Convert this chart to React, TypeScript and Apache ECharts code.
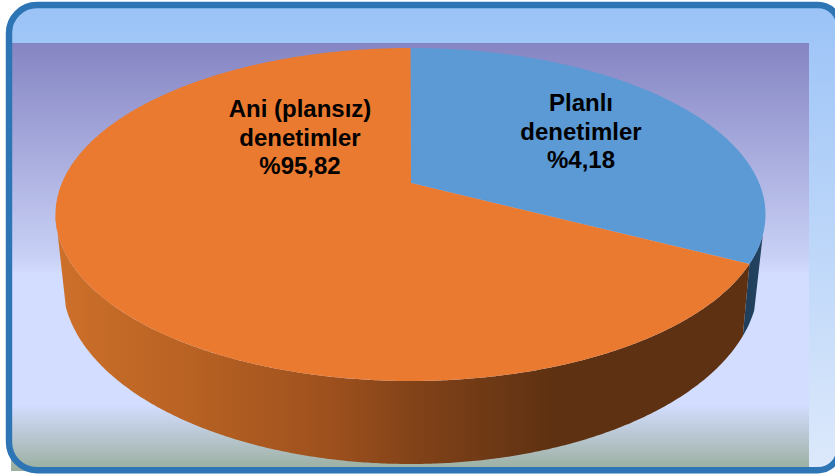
import React, { useEffect, useRef } from "react";
import * as echarts from "echarts";

// Printed labels say 4,18 / 95,82, but the slices in the picture are drawn at roughly 30 / 70:
const categories = ["Planlı\ndenetimler", "Ani (plansız)\ndenetimler"];
const printedValues = ["%4,18", "%95,82"];
const drawnShares = [29.8, 70.2];

const W = 835;
const H = 475;
const TOP = { cx: 410.5, cy: 214.5, rx: 355, ry: 166.5 };
const BOTTOM = { cx: 410.5, cy: 282, rx: 348, ry: 182 };
const APEX = [411, 183];
const LABEL_POS = [
  { x: 581, y: 131 },
  { x: 300, y: 137 },
];
const TOP_COLORS = ["#5B9AD5", "#EA7A2F"];
const FRAME = { x: 9, y: 5, width: 830.5, height: 465.2, r: [28, 21.5, 21.5, 28] };

const pt = (e: typeof TOP, deg: number) => {
  const a = (deg * Math.PI) / 180;
  return [e.cx + e.rx * Math.sin(a), e.cy - e.ry * Math.cos(a)];
};
const arc = (e: typeof TOP, from: number, to: number) => {
  const n = Math.max(2, Math.ceil(Math.abs(to - from) * 2));
  const out: number[][] = [];
  for (let i = 0; i <= n; i++) out.push(pt(e, from + ((to - from) * i) / n));
  return out;
};
const total = drawnShares.reduce((a, b) => a + b, 0);
const sliceRange = (index: number) => {
  let start = 0;
  for (let i = 0; i < index; i++) start += (drawnShares[i] / total) * 360;
  return [start, start + (drawnShares[index] / total) * 360];
};

const orangeSide = new echarts.graphic.LinearGradient(0, 0, 1, 0, [
  { offset: 0, color: "#CD702A" },
  { offset: 0.2, color: "#B76123" },
  { offset: 0.4, color: "#9D501D" },
  { offset: 0.52, color: "#814218" },
  { offset: 0.72, color: "#5E3112" },
  { offset: 1, color: "#5E3112" },
]);
const blueSide = new echarts.graphic.LinearGradient(0, 0, 1, 0, [
  { offset: 0, color: "#1F3D58" },
  { offset: 1, color: "#234463" },
]);

function renderSide(params: any) {
  const i = params.dataIndex;
  const [a, b] = sliceRange(i);
  const points =
    i === 0
      ? [...arc(TOP, 97, b), ...arc(BOTTOM, b, 99)]
      : [...arc(TOP, a, 270), ...arc(BOTTOM, 262, a)];
  return {
    type: "polygon",
    shape: { points },
    style: { fill: i === 0 ? blueSide : orangeSide },
    silent: true,
  };
}

function renderTop(params: any) {
  const i = params.dataIndex;
  const [a, b] = sliceRange(i);
  const points = [APEX, ...arc(TOP, a, b)];
  return {
    type: "polygon",
    shape: { points },
    style: { fill: TOP_COLORS[i] },
    silent: true,
  };
}

function renderLabel(params: any) {
  const i = params.dataIndex;
  return {
    type: "text",
    x: LABEL_POS[i].x,
    y: LABEL_POS[i].y,
    silent: true,
    style: {
      text: categories[i] + "\n" + printedValues[i],
      fill: "#000000",
      font: 'bold 24px "Liberation Sans", Arial, sans-serif',
      lineHeight: 28.3,
      align: "center",
      verticalAlign: "middle",
    },
  };
}

export default function App() {
  const ref = useRef<HTMLDivElement>(null);
  useEffect(() => {
    document.body.style.margin = "0";
    const chart = echarts.init(ref.current!, undefined, { renderer: "svg" });
    const sliceData = drawnShares.map((v) => [v]);
    chart.setOption({
      animation: false,
      backgroundColor: "#FFFFFF",
      graphic: {
        elements: [
          {
            type: "rect",
            z: -10,
            shape: FRAME,
            style: {
              fill: new echarts.graphic.LinearGradient(0, 0, 0, 1, [
                { offset: 0, color: "#9BC3F7" },
                { offset: 1, color: "#DDE9FB" },
              ]),
            },
          },
          {
            type: "rect",
            z: -9,
            shape: { x: 11, y: 43, width: 798, height: 428 },
            style: {
              fill: new echarts.graphic.LinearGradient(0, 0, 0, 1, [
                { offset: 0, color: "#8585C3" },
                { offset: 0.5, color: "#C8D0F5" },
                { offset: 0.54, color: "#D3DDFF" },
                { offset: 0.845, color: "#D3DDFF" },
                { offset: 1, color: "#9AAE9E" },
              ]),
            },
          },
          {
            type: "rect",
            z: 100,
            shape: FRAME,
            style: { fill: "transparent", stroke: "#2E75B6", lineWidth: 6.4 },
          },
        ],
      },
      series: [
        { type: "custom", coordinateSystem: "none", data: sliceData, renderItem: renderSide, clip: false, silent: true },
        { type: "custom", coordinateSystem: "none", data: sliceData, renderItem: renderTop, clip: false, silent: true },
        { type: "custom", coordinateSystem: "none", data: sliceData, renderItem: renderLabel, clip: false, silent: true },
      ],
    });
    return () => chart.dispose();
  }, []);
  return <div ref={ref} style={{ position: "absolute", left: 0, top: 0, width: W, height: H }} />;
}
